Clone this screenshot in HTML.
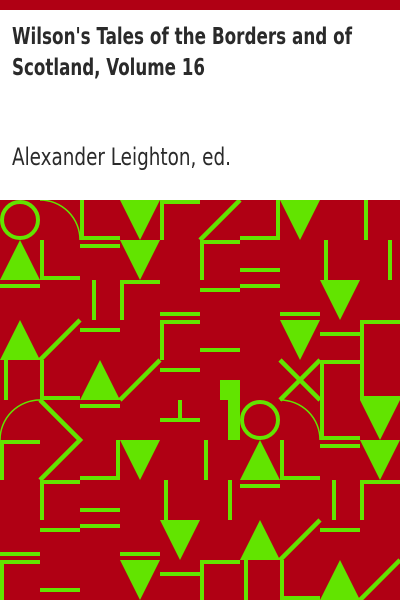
<!DOCTYPE html>
<html><head><meta charset="utf-8"><style>
body{margin:0;width:400px;height:600px;overflow:hidden;background:#fff;position:relative;font-family:"DejaVu Sans Condensed","DejaVu Sans","Liberation Sans",sans-serif}
.t{position:absolute;left:12px;color:#2a2a2a;margin:0;white-space:nowrap;transform-origin:0 0;line-height:1}
</style></head><body>
<div style="position:absolute;left:0;top:0;width:400px;height:10px;background:#b00014"></div>
<span class="t fit" data-w="340" style="top:26px;font-size:23px;font-weight:bold">Wilson's Tales of the Borders and of</span>
<span class="t fit" data-w="193" style="top:57px;font-size:23px;font-weight:bold">Scotland, Volume 16</span>
<span class="t fit" data-w="219" style="top:145px;font-size:24px">Alexander Leighton, ed.</span>
<svg style="position:absolute;left:0;top:200px" width="400" height="400" viewBox="0 200 400 400">
<rect x="0" y="200" width="400" height="400" fill="#b00014"/>
<g fill="#62e400">
<rect x="80" y="200" width="4" height="40"/><rect x="80" y="236" width="40" height="4"/>
<rect x="80" y="244" width="40" height="4"/>
<rect x="160" y="200" width="4" height="40"/><rect x="160" y="200" width="40" height="4"/>
<rect x="40" y="240" width="4" height="40"/><rect x="40" y="276" width="40" height="4"/>
<rect x="0" y="284" width="40" height="4"/>
<rect x="92" y="280" width="4" height="40"/>
<rect x="120" y="280" width="4" height="40"/><rect x="120" y="280" width="40" height="4"/>
<rect x="80" y="328" width="40" height="4"/>
<rect x="160" y="312" width="40" height="4"/>
<rect x="160" y="320" width="4" height="40"/><rect x="160" y="320" width="40" height="4"/>
<rect x="160" y="368" width="40" height="4"/>
<rect x="4" y="360" width="4" height="40"/>
<rect x="40" y="360" width="4" height="40"/><rect x="40" y="396" width="40" height="4"/>
<rect x="276" y="200" width="4" height="40"/><rect x="240" y="236" width="40" height="4"/>
<rect x="200" y="240" width="40" height="4"/><rect x="200" y="240" width="4" height="40"/>
<rect x="364" y="200" width="4" height="40"/>
<rect x="324" y="240" width="4" height="40"/><rect x="388" y="240" width="4" height="40"/>
<rect x="240" y="268" width="40" height="4"/><rect x="240" y="284" width="40" height="4"/>
<rect x="200" y="288" width="40" height="4"/>
<rect x="280" y="312" width="40" height="4"/>
<rect x="360" y="320" width="4" height="80"/><rect x="360" y="320" width="40" height="4"/>
<rect x="320" y="332" width="40" height="4"/>
<rect x="320" y="360" width="40" height="4"/><rect x="320" y="360" width="4" height="80"/>
<rect x="200" y="348" width="40" height="4"/>
<rect x="360" y="396" width="40" height="4"/>
<rect x="220" y="380" width="20" height="20"/><rect x="228" y="380" width="12" height="60"/>
<rect x="320" y="436" width="40" height="4"/><rect x="320" y="444" width="40" height="4"/>
<rect x="204" y="440" width="4" height="40"/>
<rect x="280" y="440" width="4" height="40"/><rect x="280" y="476" width="40" height="4"/>
<rect x="240" y="484" width="40" height="4"/>
<rect x="228" y="480" width="4" height="40"/><rect x="332" y="480" width="4" height="40"/>
<rect x="360" y="480" width="4" height="40"/><rect x="360" y="480" width="40" height="4"/>
<rect x="320" y="528" width="40" height="4"/>
<rect x="200" y="560" width="40" height="4"/><rect x="200" y="560" width="4" height="40"/>
<rect x="244" y="560" width="4" height="40"/>
<rect x="280" y="560" width="4" height="40"/><rect x="280" y="596" width="40" height="4"/>
<rect x="80" y="404" width="40" height="4"/>
<rect x="0" y="440" width="40" height="4"/><rect x="0" y="440" width="4" height="40"/>
<rect x="178" y="400" width="4" height="20"/><rect x="160" y="418" width="40" height="4"/>
<rect x="116" y="440" width="4" height="40"/><rect x="80" y="476" width="40" height="4"/>
<rect x="40" y="480" width="4" height="40"/><rect x="40" y="480" width="40" height="4"/>
<rect x="80" y="508" width="40" height="4"/><rect x="80" y="524" width="40" height="4"/>
<rect x="40" y="528" width="40" height="4"/>
<rect x="164" y="480" width="4" height="40"/>
<rect x="0" y="552" width="40" height="4"/>
<rect x="0" y="560" width="40" height="4"/><rect x="0" y="560" width="4" height="40"/>
<rect x="120" y="552" width="40" height="4"/>
<rect x="160" y="572" width="40" height="4"/>
<rect x="40" y="588" width="40" height="4"/>
<polygon points="120,200 160,200 140,240"/><polygon points="120,240 160,240 140,280"/>
<polygon points="20,240 40,280 0,280"/><polygon points="20,320 40,360 0,360"/>
<polygon points="100,360 120,400 80,400"/>
<polygon points="280,200 320,200 300,240"/><polygon points="320,280 360,280 340,320"/>
<polygon points="280,320 320,320 300,360"/>
<polygon points="360,400 400,400 380,440"/><polygon points="360,440 400,440 380,480"/>
<polygon points="260,440 280,480 240,480"/><polygon points="260,520 280,560 240,560"/>
<polygon points="340,560 360,600 320,600"/>
<polygon points="120,440 160,440 140,480"/><polygon points="160,520 200,520 180,560"/>
<polygon points="120,560 160,560 140,600"/>
</g>
<g stroke="#62e400" fill="none">
<circle cx="20" cy="220" r="18" stroke-width="4"/>
<circle cx="260" cy="420" r="18" stroke-width="4"/>
<path d="M40 200 A40 40 0 0 1 80 240" stroke-width="1.5"/>
<path d="M280 400 A40 40 0 0 1 320 440" stroke-width="1.5"/>
<path d="M0 440 A40 40 0 0 1 40 400" stroke-width="1.5"/>
<g stroke-width="4.5">
<line x1="40" y1="360" x2="80" y2="320"/><line x1="120" y1="400" x2="160" y2="360"/>
<line x1="200" y1="240" x2="240" y2="200"/>
<line x1="280" y1="360" x2="320" y2="400"/><line x1="280" y1="400" x2="320" y2="360"/>
<polyline points="40,400 80,440 40,480"/>
<line x1="280" y1="560" x2="320" y2="520"/><line x1="360" y1="600" x2="400" y2="560"/>
</g>
</g>
</svg>
<script>
document.querySelectorAll('.fit').forEach(function(el){
  var w = el.getBoundingClientRect().width;
  var target = parseFloat(el.getAttribute('data-w'));
  if (w > 0) el.style.transform = 'scaleX(' + (target / w) + ')';
});
</script>
</body></html>
